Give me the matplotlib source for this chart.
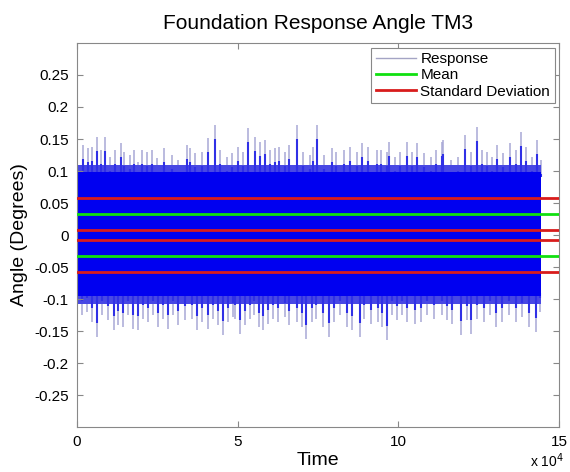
import numpy as np
import matplotlib
matplotlib.use('Agg')
import matplotlib.pyplot as plt
from matplotlib.ticker import FuncFormatter

plt.rcParams['font.family'] = ['Liberation Sans', 'DejaVu Sans']

# ---- data (time in units of 1e4 samples) ----
# upper peaks of the response
up_t = [0.19, 0.34, 0.47, 0.62, 0.75, 0.87, 1.02, 1.18, 1.37, 1.46, 1.65, 1.77,
        1.89, 2.02, 2.17, 2.33, 2.48, 2.70, 2.95, 3.14, 3.42, 3.51, 3.66, 3.88,
        4.07, 4.29, 4.44, 4.66, 4.81, 5.00, 5.16, 5.31, 5.53, 5.68, 5.84, 5.99,
        6.15, 6.30, 6.46, 6.61, 6.83, 7.02, 7.24, 7.33, 7.48, 7.70, 7.92, 8.07,
        8.32, 8.48, 8.70, 8.88, 9.04, 9.32, 9.47, 9.63, 9.72, 9.88, 10.06, 10.28,
        10.43, 10.59, 10.81, 11.02, 11.18, 11.34, 11.40, 11.65, 11.86, 12.08,
        12.27, 12.45, 12.61, 12.76, 12.92, 13.07, 13.26, 13.48, 13.66, 13.82,
        13.98, 14.16, 14.32, 14.44]
up_v = [0.141, 0.136, 0.138, 0.153, 0.133, 0.153, 0.122, 0.133, 0.144, 0.130,
        0.125, 0.133, 0.114, 0.133, 0.130, 0.133, 0.120, 0.136, 0.125, 0.117,
        0.141, 0.136, 0.128, 0.130, 0.152, 0.172, 0.133, 0.122, 0.128, 0.138,
        0.130, 0.167, 0.153, 0.145, 0.148, 0.133, 0.136, 0.138, 0.130, 0.141,
        0.172, 0.130, 0.125, 0.138, 0.172, 0.125, 0.136, 0.130, 0.133, 0.138,
        0.130, 0.144, 0.138, 0.133, 0.133, 0.130, 0.145, 0.122, 0.130, 0.145,
        0.130, 0.144, 0.128, 0.122, 0.133, 0.145, 0.148, 0.117, 0.122, 0.156,
        0.130, 0.169, 0.133, 0.130, 0.122, 0.141, 0.128, 0.144, 0.133, 0.161,
        0.138, 0.122, 0.148, 0.117]

# lower troughs of the response
lo_t = [0.16, 0.31, 0.47, 0.62, 0.78, 0.96, 1.15, 1.27, 1.43, 1.58, 1.74, 1.89,
        2.05, 2.20, 2.36, 2.52, 2.67, 2.83, 2.98, 3.14, 3.35, 3.57, 3.73, 3.88,
        4.07, 4.22, 4.38, 4.53, 4.69, 4.84, 4.91, 5.06, 5.22, 5.37, 5.50, 5.65,
        5.78, 5.93, 6.09, 6.24, 6.46, 6.61, 6.83, 6.99, 7.14, 7.30, 7.45, 7.64,
        7.83, 8.01, 8.17, 8.39, 8.57, 8.79, 8.94, 9.16, 9.35, 9.50, 9.66, 9.81,
        9.97, 10.12, 10.28, 10.50, 10.71, 10.90, 11.12, 11.34, 11.52, 11.68,
        11.96, 12.14, 12.27, 12.45, 12.67, 12.86, 13.04, 13.23, 13.45, 13.66,
        13.85, 14.07, 14.29, 14.41]
lo_v = [-0.125, -0.120, -0.136, -0.159, -0.125, -0.133, -0.148, -0.141, -0.144,
        -0.125, -0.147, -0.148, -0.131, -0.136, -0.125, -0.144, -0.131, -0.147,
        -0.125, -0.141, -0.133, -0.131, -0.148, -0.136, -0.147, -0.131, -0.141,
        -0.156, -0.136, -0.128, -0.131, -0.155, -0.141, -0.131, -0.125, -0.144,
        -0.148, -0.139, -0.131, -0.136, -0.128, -0.141, -0.136, -0.144, -0.162,
        -0.136, -0.131, -0.144, -0.159, -0.136, -0.125, -0.144, -0.148, -0.159,
        -0.131, -0.139, -0.136, -0.144, -0.164, -0.125, -0.133, -0.125, -0.136,
        -0.139, -0.136, -0.125, -0.131, -0.125, -0.133, -0.139, -0.156, -0.133,
        -0.155, -0.131, -0.136, -0.125, -0.144, -0.136, -0.125, -0.136, -0.128,
        -0.144, -0.152, -0.120]

# solid part of the band and its fuzzy rim
core_t = [0.0, 14.44]
core_top = [0.098, 0.098]
core_bot = [-0.095, -0.095]
rim_top = [0.110, 0.110]
rim_bot = [-0.108, -0.108]

mean_vals = [0.033, -0.033]
std_val = 0.025

# ---- figure ----
fig = plt.figure(figsize=(5.7, 4.72), dpi=100)
ax = fig.add_axes([0.135, 0.095, 0.846, 0.814])

sc = 1e4
ct = np.array(core_t) * sc
ax.fill_between(ct, core_top, rim_top, color='#4848e4', lw=0, zorder=1.2)
ax.fill_between(ct, rim_bot, core_bot, color='#4848e4', lw=0, zorder=1.2)
ax.fill_between(ct, core_bot, core_top, color='#0000f0', lw=0, zorder=2)

ut = np.array(up_t) * sc
lt = np.array(lo_t) * sc
up_v = np.array(up_v)
lo_v = np.array(lo_v)
# pale tips
ax.vlines(ut, 0.09, up_v, color='#a8a8d6', lw=1.1, zorder=1)
ax.vlines(lt, lo_v, -0.09, color='#a8a8d6', lw=1.1, zorder=1)
# denser blue part near the band
ax.vlines(ut, 0.09, up_v - 0.022, color='#3030e6', lw=1.5, zorder=1.5)
ax.vlines(lt, lo_v + 0.022, -0.09, color='#3030e6', lw=1.5, zorder=1.5)

# legend proxies
ax.plot([], [], color='#a4a4c4', lw=1.0, label='Response')
for i, m in enumerate(mean_vals):
    ax.axhline(m, color='#10e010', lw=2, zorder=3,
               label='Mean' if i == 0 else None)
for i, m in enumerate(mean_vals):
    for s in (m + std_val, m - std_val):
        ax.axhline(s, color='#d81c1c', lw=2, zorder=3,
                   label='Standard Deviation' if (i == 0 and s > m) else None)

ax.set_xlim(0, 15e4)
ax.set_ylim(-0.3, 0.3)
ax.set_xticks([0, 5e4, 10e4, 15e4])
ax.xaxis.set_major_formatter(FuncFormatter(lambda v, p: '%g' % (v / sc)))
ax.set_yticks([-0.25, -0.2, -0.15, -0.1, -0.05, 0, 0.05, 0.1, 0.15, 0.2, 0.25])
ax.yaxis.set_major_formatter(FuncFormatter(lambda v, p: '0' if v == 0 else ('%g' % v)))
ax.tick_params(direction='in', top=True, right=True, labelsize=11,
               color='#888888', length=4, pad=6)
for sp in ax.spines.values():
    sp.set_color('#888888')

ax.set_title('Foundation Response Angle TM3', fontsize=15, pad=10)
ax.set_xlabel('Time', fontsize=14, labelpad=2)
ax.set_ylabel('Angle (Degrees)', fontsize=14, labelpad=4)
fig.text(0.93, 0.01, r'x 10$^4$', fontsize=10)

leg = ax.legend(loc='upper right', fontsize=11, handlelength=2.6,
                fancybox=False, framealpha=1, borderpad=0.3,
                labelspacing=0.15, handletextpad=0.3, borderaxespad=0.3)
leg.get_frame().set_edgecolor('#888888')
leg.get_frame().set_linewidth(0.8)

fig.savefig('out.png', dpi=100)
